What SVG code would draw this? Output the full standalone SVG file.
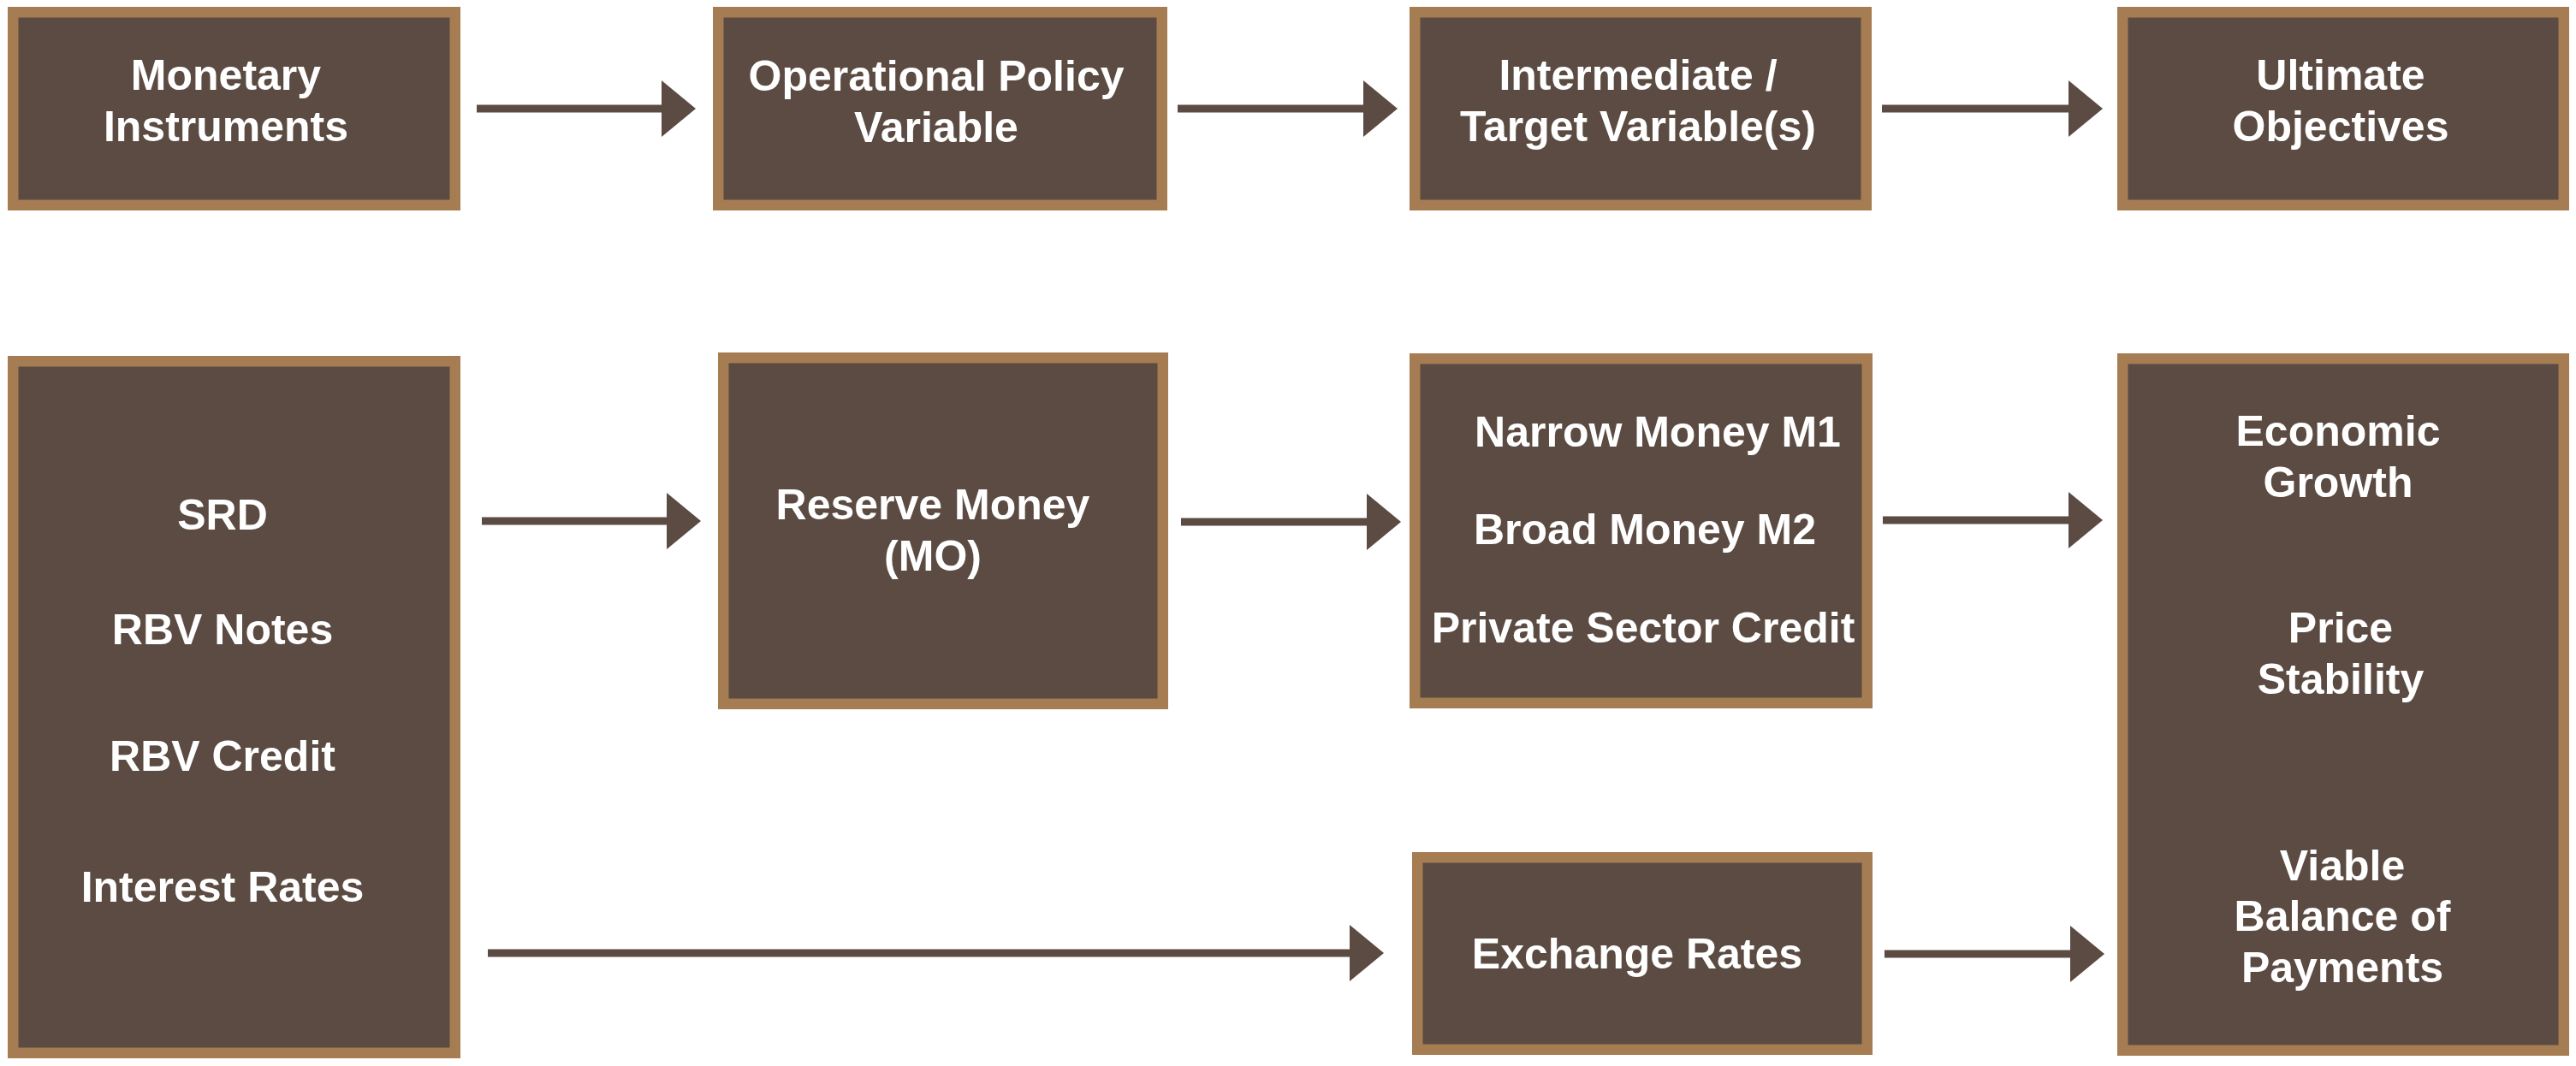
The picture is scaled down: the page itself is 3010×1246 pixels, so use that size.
<svg xmlns="http://www.w3.org/2000/svg" width="3010" height="1246" viewBox="0 0 3010 1246">
<style>
.box{fill:#5B4B42;stroke:#A67C52;stroke-width:12.5}
.t{font-family:"Liberation Sans",Arial,sans-serif;font-weight:bold;font-size:50px;fill:#FFFFFF;text-anchor:middle}
.c{stroke:#5B4B42;stroke-width:9;fill:none}
</style>
<defs>
<marker id="ah" markerUnits="userSpaceOnUse" markerWidth="40" markerHeight="66" refX="0" refY="33" orient="auto" overflow="visible">
<path d="M0,0 L40,33 L0,66 Z" fill="#5B4B42"/>
</marker>
</defs>
<rect width="3010" height="1246" fill="#FFFFFF"/>
<g id="connectors">
<line class="c" x1="557" y1="127" x2="773" y2="127" marker-end="url(#ah)"/>
<line class="c" x1="1376" y1="127" x2="1593" y2="127" marker-end="url(#ah)"/>
<line class="c" x1="2199" y1="127" x2="2417" y2="127" marker-end="url(#ah)"/>
<line class="c" x1="563" y1="609" x2="779" y2="609" marker-end="url(#ah)"/>
<line class="c" x1="1380" y1="610" x2="1597" y2="610" marker-end="url(#ah)"/>
<line class="c" x1="2200" y1="608" x2="2417" y2="608" marker-end="url(#ah)"/>
<line class="c" x1="570" y1="1114" x2="1577" y2="1114" marker-end="url(#ah)"/>
<line class="c" x1="2202" y1="1115" x2="2419" y2="1115" marker-end="url(#ah)"/>
</g>
<g id="monetary-instruments">
<rect class="box" x="15.25" y="14.25" width="516.5" height="225.5"/>
<text class="t" x="264" y="105">Monetary</text>
<text class="t" x="264" y="165">Instruments</text>
</g>
<g id="operational-policy-variable">
<rect class="box" x="839.25" y="14.25" width="518.5" height="225.5"/>
<text class="t" x="1094" y="106">Operational Policy</text>
<text class="t" x="1094" y="166">Variable</text>
</g>
<g id="intermediate-target">
<rect class="box" x="1653.25" y="14.25" width="527.5" height="225.5"/>
<text class="t" x="1914" y="105">Intermediate /</text>
<text class="t" x="1914" y="165">Target Variable(s)</text>
</g>
<g id="ultimate-objectives">
<rect class="box" x="2480.25" y="14.25" width="515.5" height="225.5"/>
<text class="t" x="2735" y="105">Ultimate</text>
<text class="t" x="2735" y="165">Objectives</text>
</g>
<g id="instruments-list">
<rect class="box" x="15.25" y="422.25" width="516.5" height="808.5"/>
<text class="t" x="260" y="619">SRD</text>
<text class="t" x="260" y="753">RBV Notes</text>
<text class="t" x="260" y="901">RBV Credit</text>
<text class="t" x="260" y="1054">Interest Rates</text>
</g>
<g id="reserve-money">
<rect class="box" x="845.25" y="418.25" width="513.5" height="404.5"/>
<text class="t" x="1090" y="607">Reserve Money</text>
<text class="t" x="1090" y="667">(MO)</text>
</g>
<g id="money-aggregates">
<rect class="box" x="1653.25" y="419.25" width="528.5" height="402.5"/>
<text class="t" x="1937" y="522">Narrow Money M1</text>
<text class="t" x="1922" y="636">Broad Money M2</text>
<text class="t" x="1920" y="751">Private Sector Credit</text>
</g>
<g id="exchange-rates">
<rect class="box" x="1656.25" y="1002.25" width="525.5" height="224.5"/>
<text class="t" x="1913" y="1132">Exchange Rates</text>
</g>
<g id="ultimate-list">
<rect class="box" x="2480.25" y="419.25" width="515.5" height="808.5"/>
<text class="t" x="2732" y="521">Economic</text>
<text class="t" x="2732" y="581">Growth</text>
<text class="t" x="2735" y="751">Price</text>
<text class="t" x="2735" y="811">Stability</text>
<text class="t" x="2737" y="1029">Viable</text>
<text class="t" x="2737" y="1088">Balance of</text>
<text class="t" x="2737" y="1148">Payments</text>
</g>
</svg>
